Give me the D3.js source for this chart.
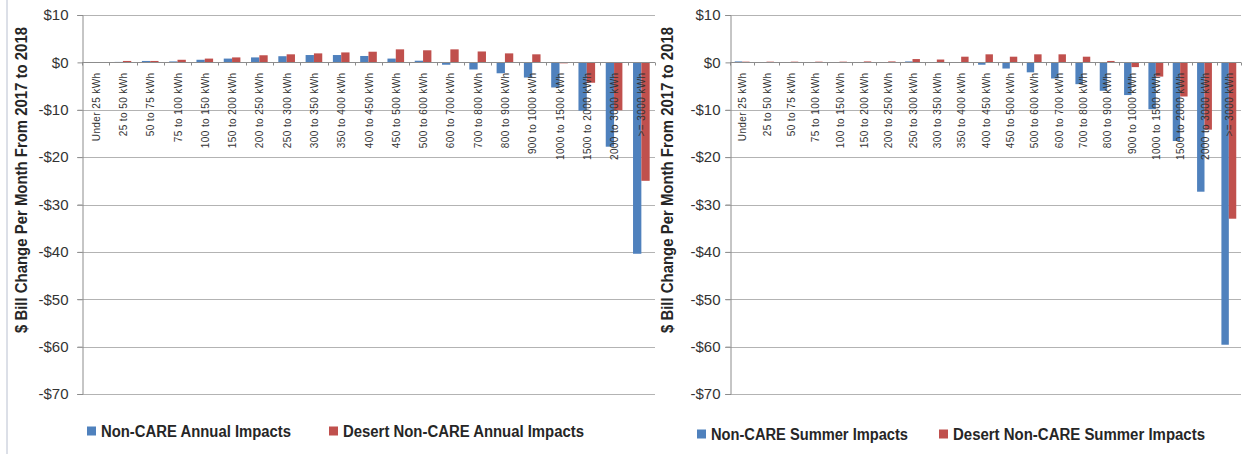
<!DOCTYPE html>
<html>
<head>
<meta charset="utf-8">
<script src="https://cdn.jsdelivr.net/npm/d3@7"></script>
<style>
  body { margin: 0; background: #fff; }
  svg { display: block; }
</style>
</head>
<body>
<div id="chart"></div>
<script>
// usage bands (same for both panels)
var categories = ["Under 25 kWh", "25 to 50 kWh", "50 to 75 kWh", "75 to 100 kWh", "100 to 150 kWh",
    "150 to 200 kWh", "200 to 250 kWh", "250 to 300 kWh", "300 to 350 kWh", "350 to 400 kWh",
    "400 to 450 kWh", "450 to 500 kWh", "500 to 600 kWh", "600 to 700 kWh", "700 to 800 kWh",
    "800 to 900 kWh", "900 to 1000 kWh", "1000 to 1500 kWh", "1500 to 2000 kWh", "2000 to 3000 kWh",
    ">= 3000 kWh"];

// annual impacts ($ per month)
var annualNonCare = [0.0, 0.1, 0.3, 0.2, 0.55, 0.8, 1.05, 1.3, 1.55, 1.55,
    1.35, 0.8, 0.35, -0.5, -1.5, -2.3, -3.2, -5.3, -10.2, -17.8, -40.4];
var annualDesert = [0.05, 0.3, 0.3, 0.55, 0.8, 1.05, 1.5, 1.7, 1.9, 2.1,
    2.25, 2.75, 2.55, 2.75, 2.3, 1.9, 1.7, -0.2, -4.3, -10.1, -25.0];

// summer impacts ($ per month)
var summerNonCare = [0.2, 0.05, 0.05, 0.05, 0.05, 0.05, 0.05, 0.2, 0.05, 0.05,
    -0.5, -1.3, -2.1, -3.4, -4.6, -6.0, -6.9, -9.9, -16.6, -27.3, -59.6];
var summerDesert = [0.15, 0.15, 0.15, 0.15, 0.15, 0.2, 0.2, 0.7, 0.6, 1.2,
    1.7, 1.2, 1.7, 1.7, 1.2, 0.3, -1.0, -3.0, -7.2, -14.2, -33.0];

var yTicks = [10, 0, -10, -20, -30, -40, -50, -60, -70];

var blue = "#4f81bd", red = "#c0504d";
var W = 1243, H = 454;

var svg = d3.select("#chart").append("svg")
    .attr("width", W)
    .attr("height", H);

// thin frame line at the far left
svg.append("line")
    .attr("x1", 7).attr("x2", 7)
    .attr("y1", 0).attr("y2", H)
    .attr("stroke", "#b9c0d0")
    .attr("stroke-width", 1);

var y = d3.scaleLinear()
    .domain([-70, 10])
    .range([394, 15]);

function money(v) {
    return (v < 0 ? "-$" : "$") + Math.abs(v);
}

function drawPanel(opts) {
    var g = svg.append("g");

    var x = d3.scaleBand()
        .domain(categories)
        .range([opts.left, opts.right])
        .paddingInner(0.39)
        .paddingOuter(0.195);
    var xs = d3.scaleBand()
        .domain(["a", "b"])
        .range([0, x.bandwidth()]);

    // gridlines
    g.selectAll(".grid")
        .data(yTicks.filter(function(d){ return d !== 0; }))
        .enter().append("line")
        .attr("class", "grid")
        .attr("x1", opts.left - 5)
        .attr("x2", opts.right)
        .attr("y1", function(d){ return Math.round(y(d)) + 0.5; })
        .attr("y2", function(d){ return Math.round(y(d)) + 0.5; })
        .attr("stroke", "#b3b3b3")
        .attr("stroke-width", 1);

    // y axis
    var yAxis = g.append("g")
        .attr("transform", "translate(" + (opts.left + 0.5) + ",0)")
        .call(d3.axisLeft(y).tickValues(yTicks).tickFormat(money).tickSize(5).tickPadding(opts.tickPad));
    yAxis.select(".domain").attr("stroke", "#8c8c8c");
    yAxis.selectAll(".tick line").attr("stroke", "#8c8c8c");
    yAxis.selectAll(".tick text")
        .attr("fill", "#333")
        .style("font-family", "Liberation Sans, Arial, sans-serif")
        .style("font-size", "15px");

    // bars
    var rows = categories.map(function(c, i){
        return [{cat: c, k: "a", v: opts.a[i], color: blue},
                {cat: c, k: "b", v: opts.b[i], color: red}];
    });
    g.selectAll(".cat")
        .data(rows)
        .enter().append("g")
        .attr("class", "cat")
        .attr("transform", function(d){ return "translate(" + x(d[0].cat) + ",0)"; })
        .selectAll("rect")
        .data(function(d){ return d; })
        .enter().append("rect")
        .attr("x", function(d){ return xs(d.k); })
        .attr("width", xs.bandwidth())
        .attr("y", function(d){ return y(Math.max(0, d.v)); })
        .attr("height", function(d){ return Math.abs(y(d.v) - y(0)); })
        .attr("fill", function(d){ return d.color; });

    // x axis at zero
    var y0 = Math.round(y(0)) + 0.5;
    g.append("line")
        .attr("x1", opts.left).attr("x2", opts.right)
        .attr("y1", y0).attr("y2", y0)
        .attr("stroke", "#8c8c8c");
    g.selectAll(".xtick")
        .data(d3.range(categories.length + 1))
        .enter().append("line")
        .attr("class", "xtick")
        .attr("x1", function(i){ return Math.round(opts.left + i * x.step()) + 0.5; })
        .attr("x2", function(i){ return Math.round(opts.left + i * x.step()) + 0.5; })
        .attr("y1", y0).attr("y2", y0 + 3)
        .attr("stroke", "#8c8c8c");

    g.selectAll(".xlab")
        .data(categories)
        .enter().append("text")
        .attr("class", "xlab")
        .attr("transform", function(d){
            return "translate(" + (x(d) + x.bandwidth() / 2 + 4) + "," + (y0 + 10) + ") rotate(-90)";
        })
        .attr("text-anchor", "end")
        .attr("fill", "#333")
        .style("font-family", "Liberation Sans, Arial, sans-serif")
        .style("font-size", "10px")
        .style("letter-spacing", "0.4px")
        .text(function(d){ return d; });

    // y axis title
    g.append("text")
        .attr("transform", "translate(" + opts.titleX + ",180) rotate(-90)")
        .attr("text-anchor", "middle")
        .attr("fill", "#262626")
        .attr("textLength", 306)
        .attr("lengthAdjust", "spacingAndGlyphs")
        .style("font-family", "Liberation Sans, Arial, sans-serif")
        .style("font-weight", "bold")
        .style("font-size", "16px")
        .text("$ Bill  Change Per Month From 2017 to 2018");

    // legend
    var leg = g.selectAll(".leg")
        .data(opts.legend)
        .enter().append("g")
        .attr("class", "leg")
        .attr("transform", function(d){ return "translate(" + d.x + "," + opts.legendY + ")"; });
    leg.append("rect")
        .attr("x", 0).attr("y", -4.5)
        .attr("width", 9).attr("height", 9)
        .attr("fill", function(d){ return d.color; });
    leg.append("text")
        .attr("x", 14)
        .attr("dy", "0.36em")
        .attr("fill", "#262626")
        .attr("textLength", function(d){ return d.w; })
        .attr("lengthAdjust", "spacingAndGlyphs")
        .style("font-family", "Liberation Sans, Arial, sans-serif")
        .style("font-weight", "bold")
        .style("font-size", "16px")
        .text(function(d){ return d.label; });
}

drawPanel({
    left: 82, right: 655, tickPad: 9, titleX: 27,
    a: annualNonCare, b: annualDesert,
    legendY: 431,
    legend: [{x: 87, w: 190, color: blue, label: "Non-CARE Annual Impacts"},
             {x: 329, w: 241, color: red, label: "Desert Non-CARE Annual Impacts"}]
});

drawPanel({
    left: 730, right: 1241, tickPad: 5, titleX: 673,
    a: summerNonCare, b: summerDesert,
    legendY: 434,
    legend: [{x: 697, w: 197, color: blue, label: "Non-CARE Summer Impacts"},
             {x: 939, w: 252, color: red, label: "Desert Non-CARE Summer Impacts"}]
});
</script>
</body>
</html>
